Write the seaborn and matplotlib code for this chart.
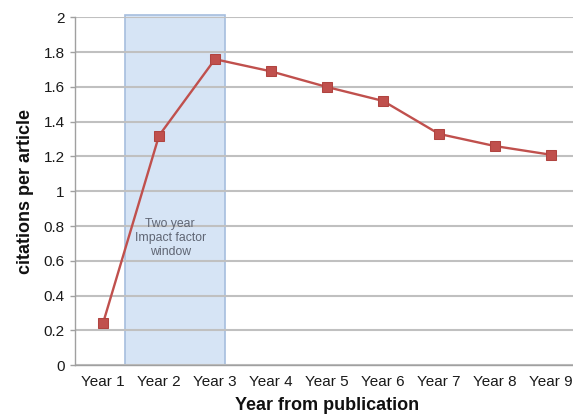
import matplotlib
matplotlib.use("Agg")
import matplotlib.pyplot as plt
import seaborn as sns
import pandas as pd
from matplotlib.patches import Rectangle

# Citations per article by year since publication
years = ["Year 1", "Year 2", "Year 3", "Year 4", "Year 5",
         "Year 6", "Year 7", "Year 8", "Year 9"]
citations = [0.24, 1.32, 1.76, 1.69, 1.60, 1.52, 1.33, 1.26, 1.21]
y_ticks = [0, 0.2, 0.4, 0.6, 0.8, 1, 1.2, 1.4, 1.6, 1.8, 2]
y_tick_labels = ["0", "0.2", "0.4", "0.6", "0.8", "1", "1.2", "1.4", "1.6", "1.8", "2"]
window_label = "Two year\nImpact factor\nwindow"

sns.set_style("white")
plt.rcParams["font.family"] = ["Liberation Sans", "DejaVu Sans"]

df = pd.DataFrame({"year": years, "citations": citations})

W, H = 573, 419
fig = plt.figure(figsize=(W / 100, H / 100), dpi=100)
ax = fig.add_axes([75 / W, (H - 365) / H, 504 / W, 347.5 / H])

# Impact-factor window band, drawn beneath the gridlines
band = Rectangle((0.39, 0), 1.79, 2.014, facecolor="#d6e4f5",
                 edgecolor="#a6bede", linewidth=1.2, zorder=0.3, clip_on=False)
ax.add_patch(band)

sns.lineplot(data=df, x="year", y="citations", ax=ax, color="#c0504d",
             linewidth=1.7, marker="s", markersize=7,
             markeredgecolor="#b04440", markerfacecolor="#c0504d",
             zorder=4, sort=False)

ax.text(1.2, 0.73, window_label, ha="center", va="center",
        fontsize=8.8, color="#5f6573", linespacing=1.25, zorder=3)

ax.set_ylim(0, 2)
ax.set_xlim(-0.5, 8.5)
ax.set_yticks(y_ticks)
ax.set_yticklabels(y_tick_labels)
ax.yaxis.grid(True, color="#c0c0c0", linewidth=1.5)
ax.xaxis.grid(False)
ax.set_axisbelow(True)

for side in ("top", "right"):
    ax.spines[side].set_visible(False)
for side in ("left", "bottom"):
    ax.spines[side].set_color("#a0a0a0")
    ax.spines[side].set_linewidth(1.0)

ax.tick_params(axis="y", length=3.5, width=1.0, color="#a0a0a0",
               labelsize=11, labelcolor="#1a1a1a", pad=4, left=True)
ax.tick_params(axis="x", length=0, labelsize=11, labelcolor="#1a1a1a", pad=7)

ax.set_xlabel("Year from publication", fontsize=13, fontweight="bold",
              color="#111111", labelpad=6)
ax.set_ylabel("citations per article", fontsize=13, fontweight="bold",
              color="#111111", labelpad=7)

fig.savefig("out.png", dpi=100)
